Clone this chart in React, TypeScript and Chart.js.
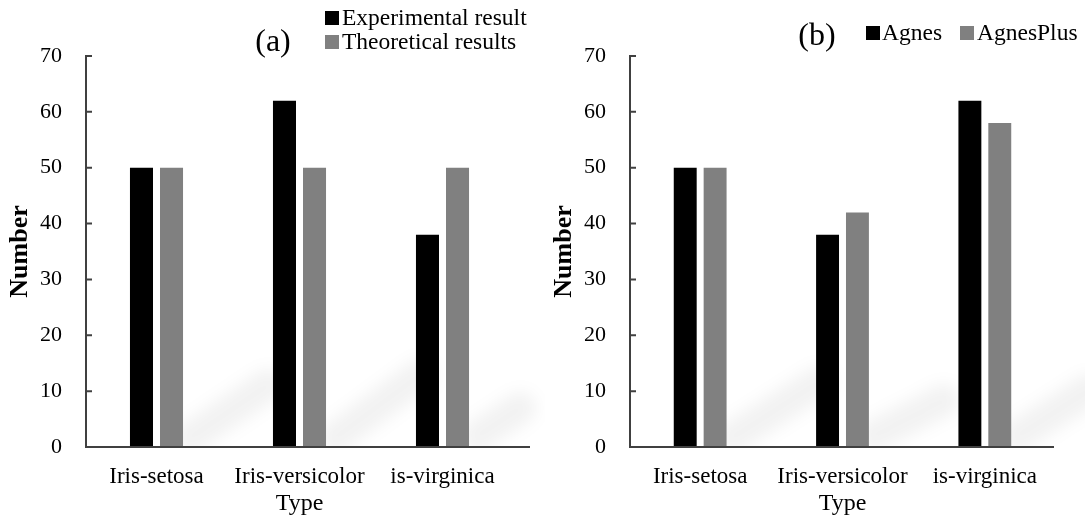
import { useEffect, useRef } from "react";
import { Chart, registerables } from "chart.js";

Chart.register(...registerables);

const categories = ["Iris-setosa", "Iris-versicolor", "is-virginica"];
const yTicks = [0, 10, 20, 30, 40, 50, 60, 70];

const panelALabels = ["Experimental result", "Theoretical results"];
const panelAExperimental = [50, 62, 38];
const panelATheoretical = [50, 50, 50];

const panelBLabels = ["Agnes", "AgnesPlus"];
const panelBAgnes = [50, 38, 62];
const panelBAgnesPlus = [50, 42, 58];

const yTitle = "Number";
const xTitle = "Type";

const FONT = "'Liberation Serif', 'Times New Roman', serif";
const BLACK = "#000000";
const GRAY = "#808080";

// faint background watermark streaks (canvas-local pixel coords, decorative only)
const streaksA = [
  [190, 438, 268, 385],
  [335, 438, 420, 375],
  [478, 436, 520, 408],
];
const streaksB = [
  [188, 438, 275, 382],
  [330, 436, 400, 400],
  [474, 436, 545, 390],
];

const axisPlugin = {
  id: "customAxes",
  afterDatasetsDraw(chart: any, _args: any, opts: any) {
    const { ctx, chartArea, scales } = chart;
    const y = scales.y;
    const x0 = chartArea.left + 1;
    const yb = y.getPixelForValue(0);
    const yt = y.getPixelForValue(yTicks[yTicks.length - 1]);
    ctx.save();
    ctx.strokeStyle = "#404040";
    ctx.lineWidth = 2;
    ctx.beginPath();
    ctx.moveTo(x0, yt - 1);
    ctx.lineTo(x0, yb);
    ctx.lineTo(chartArea.right + (opts.extend || 0), yb);
    ctx.stroke();
    ctx.beginPath();
    yTicks.forEach((v) => {
      const py = y.getPixelForValue(v);
      ctx.moveTo(x0, py);
      ctx.lineTo(x0 + 6, py);
    });
    ctx.stroke();
    ctx.restore();
  },
};

const streakPlugin = {
  id: "streaks",
  beforeDatasetsDraw(chart: any, _args: any, opts: any) {
    const { ctx, chartArea } = chart;
    ctx.save();
    ctx.beginPath();
    ctx.rect(0, 0, chart.width, chartArea.bottom);
    ctx.clip();
    ctx.filter = "blur(8px)";
    ctx.strokeStyle = "rgba(0,0,0,0.05)";
    ctx.lineWidth = 32;
    ctx.lineCap = "round";
    (opts.list || []).forEach((s: number[]) => {
      ctx.beginPath();
      ctx.moveTo(s[0], s[1]);
      ctx.lineTo(s[2], s[3]);
      ctx.stroke();
    });
    ctx.restore();
  },
};

const labelPlugin = {
  id: "panelLabel",
  afterDraw(chart: any, _args: any, opts: any) {
    const { ctx } = chart;
    ctx.save();
    ctx.fillStyle = "#000";
    ctx.font = `32px ${FONT}`;
    ctx.textAlign = "center";
    ctx.textBaseline = "alphabetic";
    ctx.fillText(opts.text, opts.x, opts.y);
    ctx.font = `23.5px ${FONT}`;
    ctx.textAlign = "left";
    ctx.textBaseline = "middle";
    chart.data.datasets.forEach((ds: any, i: number) => {
      const it = opts.items[i];
      ctx.fillStyle = ds.backgroundColor;
      ctx.fillRect(it.sx, it.cy - 7, 14, 14);
      ctx.fillStyle = "#000";
      ctx.fillText(ds.label, it.tx, it.cy + 1);
    });
    ctx.restore();
  },
};

function makeConfig(
  labels: string[],
  a: number[],
  b: number[],
  rightPad: number,
  extend: number,
  panelText: string,
  panelY: number,
  items: any[],
  streaks: number[][]
): any {
  return {
    type: "bar",
    data: {
      labels: categories,
      datasets: [
        {
          label: labels[0],
          data: a,
          backgroundColor: BLACK,
          borderWidth: 0,
          categoryPercentage: 0.42,
          barPercentage: 0.767,
        },
        {
          label: labels[1],
          data: b,
          backgroundColor: GRAY,
          borderWidth: 0,
          categoryPercentage: 0.42,
          barPercentage: 0.767,
        },
      ],
    },
    options: {
      animation: false,
      responsive: false,
      maintainAspectRatio: false,
      layout: { padding: { left: 0, right: rightPad, top: 56, bottom: 0 } },
      plugins: {
        legend: { display: false },
        tooltip: { enabled: false },
        customAxes: { extend },
        streaks: { list: streaks },
        panelLabel: { text: panelText, x: 273, y: panelY, items },
      },
      scales: {
        x: {
          type: "category",
          grid: { display: false, drawTicks: false, tickLength: 0 },
          border: { display: false },
          ticks: {
            font: { family: FONT, size: 23 },
            color: "#000",
            padding: 16,
            maxRotation: 0,
            autoSkip: false,
          },
          title: {
            display: true,
            text: xTitle,
            font: { family: FONT, size: 24 },
            color: "#000",
            padding: { top: 0, bottom: 0 },
          },
          afterFit(s: any) {
            s.height = 71;
          },
        },
        y: {
          min: 0,
          max: 70,
          afterBuildTicks(s: any) {
            s.ticks = yTicks.map((v) => ({ value: v }));
          },
          grid: { display: false, drawTicks: false, tickLength: 0 },
          border: { display: false },
          ticks: {
            font: { family: FONT, size: 22 },
            color: "#000",
            padding: 23,
          },
          title: {
            display: true,
            text: yTitle,
            font: { family: FONT, size: 26, weight: "bold" },
            color: "#000",
            padding: { top: 5, bottom: 0 },
          },
          afterFit(s: any) {
            s.width = 85;
          },
        },
      },
    },
    plugins: [streakPlugin, axisPlugin, labelPlugin],
  };
}

export default function App() {
  const leftRef = useRef<HTMLCanvasElement>(null);
  const rightRef = useRef<HTMLCanvasElement>(null);

  useEffect(() => {
    const c1 = new Chart(
      leftRef.current as HTMLCanvasElement,
      makeConfig(
        panelALabels,
        panelAExperimental,
        panelATheoretical,
        545 - 514,
        16,
        "(a)",
        51,
        [
          { sx: 325, tx: 342, cy: 18 },
          { sx: 325, tx: 342, cy: 42 },
        ],
        streaksA
      )
    );
    const c2 = new Chart(
      rightRef.current as HTMLCanvasElement,
      makeConfig(
        panelBLabels,
        panelBAgnes,
        panelBAgnesPlus,
        541 - 512,
        -2,
        "(b)",
        45,
        [
          { sx: 322, tx: 338, cy: 33 },
          { sx: 416, tx: 433, cy: 33 },
        ],
        streaksB
      )
    );
    return () => {
      c1.destroy();
      c2.destroy();
    };
  }, []);

  return (
    <div
      style={{
        position: "fixed",
        left: 0,
        top: 0,
        width: 1085,
        height: 518,
        background: "#fff",
        overflow: "hidden",
      }}
    >
      <canvas
        ref={leftRef}
        width={545}
        height={518}
        style={{ position: "absolute", left: 0, top: 0, width: 545, height: 518 }}
      />
      <canvas
        ref={rightRef}
        width={541}
        height={518}
        style={{ position: "absolute", left: 544, top: 0, width: 541, height: 518 }}
      />
    </div>
  );
}
